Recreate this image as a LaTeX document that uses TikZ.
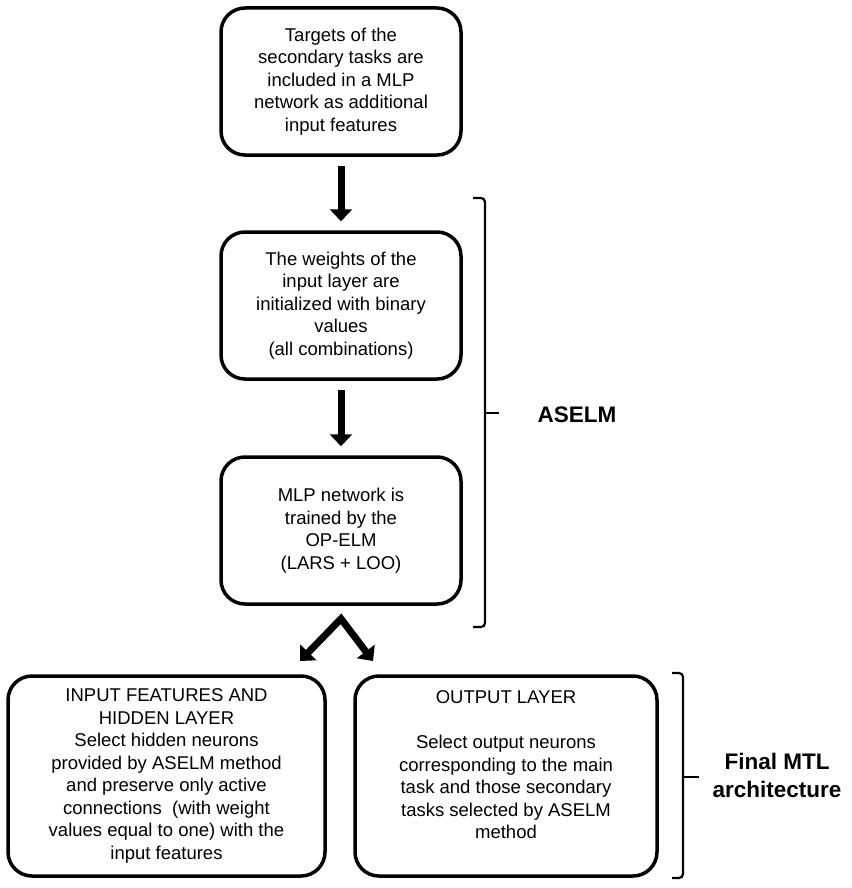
\documentclass[tikz,border=0pt]{standalone}
\usepackage{fontspec}
\setmainfont{Liberation Sans}
\usetikzlibrary{arrows.meta}
\usetikzlibrary{positioning}

\tikzset{
  fat/.style={line width=7pt},
  bracket/.style={line width=2.2pt, rounded corners=4pt},
  >={Triangle[width=22pt,length=12pt]},
}

\begin{document}
\begin{tikzpicture}[x=1pt, y=-1pt]
  \useasboundingbox (0,0) rectangle (851,888);

  \begin{scope}[every node/.style={draw, line width=3.5pt, rounded corners=24pt, align=center,
      inner sep=0pt, minimum width=240pt, minimum height=147pt,
      font=\fontsize{18.5pt}{22.5pt}\selectfont}]
    \node at (341,81.5) (targets) {Targets of the\\ secondary tasks are\\ included in a MLP\\ network as additional\\ input features};
    \node [below=73.5pt of targets] (weights) {The weights of the\\ input layer are\\ initialized with binary\\ values\\ (all combinations)};
    \node [below=74.5pt of weights] (training) {MLP network is\\ trained by the\\ OP-ELM\\ (LARS + LOO)};

    \node [minimum width=317pt, minimum height=200pt] at (166.5,776) (hidden) {INPUT FEATURES AND\\ HIDDEN LAYER\\ Select hidden neurons\\ provided by ASELM method\\ and preserve only active\\ connections\ \ (with weight\\ values equal to one) with the\\ input features};
    \node [minimum width=302pt, minimum height=200pt] at (506,776) (output) {OUTPUT LAYER\\ \mbox{}\\ Select output neurons\\ corresponding to the main\\ task and those secondary\\ tasks selected by ASELM\\ method\\ \mbox{}};
  \end{scope}

  \draw [fat, ->, shorten <=9pt, shorten >=9pt] (targets) -- (weights);
  \draw [fat, ->, shorten <=9pt, shorten >=9pt] (weights) -- (training);

  \coordinate [below=13pt of training.south] (split);
  \coordinate (splitl) at (300,661);
  \coordinate (splitr) at (373,661);
  \draw [fat, <->, line join=miter] (splitl) -- (split) -- (splitr);

  \draw [bracket] (473,198) -- (485,198) -- (485,627) -- (473,627);
  \draw [bracket] (485,413) -- (499,413);
  \node [font=\fontsize{22.5pt}{28pt}\selectfont\bfseries] at (577,415) (aselm) {ASELM};

  \draw [bracket] (672,673) -- (683,673) -- (683,878) -- (672,878);
  \draw [bracket] (683,777) -- (699,777);
  \node [align=center, font=\fontsize{22.5pt}{28pt}\selectfont\bfseries] at (777,775) (final) {Final MTL\\ architecture};

\end{tikzpicture}
\end{document}
